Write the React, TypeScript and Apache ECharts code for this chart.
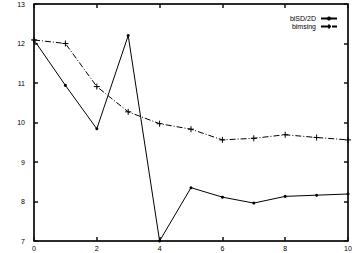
import React, { useEffect, useRef } from "react";
import * as echarts from "echarts";

const xValues = [0, 1, 2, 3, 4, 5, 6, 7, 8, 9, 10];
const biSD2D = [12.09, 10.94, 9.84, 12.2, 7.0, 8.35, 8.11, 7.96, 8.13, 8.16, 8.19];
const bimsing = [12.09, 12.0, 10.91, 10.27, 9.97, 9.83, 9.56, 9.6, 9.69, 9.62, 9.56];
const seriesNames = ["biSD/2D", "bimsing"];

const font = { fontFamily: "Liberation Sans", fontSize: 7, color: "#000" };
const plusPath = "path://M0,5L10,5M5,0L5,10";

export default function App() {
  const ref = useRef<HTMLDivElement>(null);
  useEffect(() => {
    const chart = echarts.init(ref.current!, undefined, { renderer: "svg" });
    const mkLine = () => ({ show: true, onZero: false, lineStyle: { color: "#101010", width: 1.5 } });
    const mkTick = () => ({ show: true, inside: true, length: 4, lineStyle: { color: "#101010", width: 1.5 } });
    chart.setOption({
      animation: false,
      backgroundColor: "#fff",
      color: ["#000", "#000"],
      grid: {
        left: 34, right: 13, top: 4, bottom: 12,
        show: true, borderColor: "#000", borderWidth: 1, backgroundColor: "transparent",
      },
      legend: {
        orient: "vertical",
        right: 18,
        top: 10,
        align: "right",
        itemWidth: 16,
        itemHeight: 5,
        itemGap: 1,
        textStyle: { ...font },
        data: seriesNames,
      },
      xAxis: [
        {
          type: "value", min: 0, max: 10, interval: 2, position: "bottom",
          axisLine: mkLine(), axisTick: mkTick(), splitLine: { show: false },
          axisLabel: { ...font, margin: 4 },
        },
        {
          type: "value", min: 0, max: 10, interval: 2, position: "top",
          axisLine: mkLine(), axisTick: mkTick(), splitLine: { show: false },
          axisLabel: { show: false },
        },
      ],
      yAxis: [
        {
          type: "value", min: 7, max: 13, interval: 1, position: "left",
          axisLine: mkLine(), axisTick: mkTick(), splitLine: { show: false },
          axisLabel: { ...font, margin: 9 },
        },
        {
          type: "value", min: 7, max: 13, interval: 1, position: "right",
          axisLine: mkLine(), axisTick: mkTick(), splitLine: { show: false },
          axisLabel: { show: false },
        },
      ],
      series: [
        {
          name: seriesNames[0],
          type: "line",
          data: xValues.map((x, i) => [x, biSD2D[i]]),
          symbol: "circle",
          symbolSize: 3,
          itemStyle: { color: "#000" },
          lineStyle: { color: "#000", width: 1 },
        },
        {
          name: seriesNames[1],
          type: "line",
          data: xValues.map((x, i) => [x, bimsing[i]]),
          symbol: plusPath,
          symbolSize: 6,
          itemStyle: { color: "#000", borderColor: "#000", borderWidth: 1 },
          lineStyle: { color: "#000", width: 1, type: [6, 2, 1, 2] },
        },
      ],
    });
    return () => chart.dispose();
  }, []);
  return (
    <div
      ref={ref}
      style={{ position: "fixed", left: 0, top: 0, width: 361, height: 253, background: "#fff" }}
    />
  );
}
